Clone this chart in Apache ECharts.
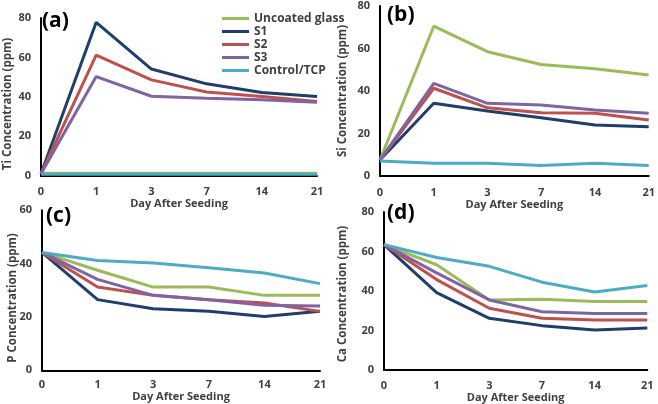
<!DOCTYPE html>
<html><head><meta charset="utf-8">
<script src="https://cdn.jsdelivr.net/npm/echarts@6/dist/echarts.min.js"></script>
<style>html,body{margin:0;padding:0;background:#fff}#c{width:658px;height:404px}</style>
</head><body><div id="c"></div>
<script>
const days = ['0','1','3','7','14','21'];
const seriesNames = ['Uncoated glass','S1','S2','S3','Control/TCP'];
// (a) Ti
const tiUncoated = [1.2,1.2,1.2,1.2,1.2,1.2];
const tiS1 = [1,77.8,54.1,46.6,42.2,40.2];
const tiS2 = [1,61.2,48.6,42.5,40.2,37.6];
const tiS3 = [1,50.3,40.3,39.3,38.5,37.3];
const tiControl = [0.7,0.7,0.7,0.7,0.7,0.7];
// (b) Si
const siUncoated = [7.5,70.5,58.5,52.5,50.5,47.5];
const siS1 = [7.5,34.2,30.6,27.4,24,23.2];
const siS2 = [7.5,41.3,32.1,29.8,29.5,26.4];
const siS3 = [7.5,43.6,34.2,33.4,31.1,29.5];
const siControl = [7.1,6,6,4.9,6,4.9];
// (c) P
const pUncoated = [44.2,37.5,31.2,31.2,28.1,28.1];
const pS1 = [44.2,26.5,23.1,22.1,20.2,22.1];
const pS2 = [44.2,31.2,28.1,26.5,25.2,22.1];
const pS3 = [44.2,34.1,28.1,26.5,24.4,24.1];
const pControl = [44.2,41.2,40.2,38.5,36.5,32.5];
// (d) Ca
const caUncoated = [63.5,53.3,35.5,35.8,34.7,34.7];
const caS1 = [63.5,39.2,26.2,22.5,20.3,21.3];
const caS2 = [63.5,45.8,31.3,26.2,25.3,25.3];
const caS3 = [63.5,49.2,35.5,29.5,28.7,28.7];
const caControl = [63.5,57,52.5,44.5,39.5,42.8];

const yNames = ['Ti Concentration (ppm)','Si Concentration (ppm)','P Concentration (ppm)','Ca Concentration (ppm)'];
const yMax = [80,80,60,80];
const panelLabels = ['(a)','(b)','(c)','(d)'];
const xTitle = 'Day After Seeding';

const colors = ['#9BBB59','#1F3E6D','#C0504D','#8064A2','#4BACC6'];
const panels = [
  [tiUncoated,tiS1,tiS2,tiS3,tiControl],
  [siUncoated,siS1,siS2,siS3,siControl],
  [pUncoated,pS1,pS2,pS3,pControl],
  [caUncoated,caS1,caS2,caS3,caControl]
];
const grids = [
  {left:41,right:341,top:18,bottom:228.3},
  {left:380,right:8.3,top:6,bottom:228},
  {left:42,right:338,top:210.3,bottom:33.7},
  {left:384,right:10.7,top:212,bottom:32}
];
const yNamePos = [[8,104],[343,91],[13,298],[343,294]];
const xLabelMargin = [11,11,9,10];
const xNameGap = [23,23,21,18];
const FONT = 'Open Sans';
const TXT = '#404040';

const chart = echarts.init(document.getElementById('c'),null,{renderer:'canvas'});
const xAxis=[],yAxis=[],series=[];
grids.forEach((g,i)=>{
  xAxis.push({gridIndex:i,type:'category',data:days,boundaryGap:false,
    axisLine:{lineStyle:{color:'#000',width:2}},axisTick:{show:false},
    axisLabel:{color:TXT,fontFamily:FONT,fontWeight:'bold',fontSize:11,margin:xLabelMargin[i]},
    name:xTitle,nameLocation:'middle',nameGap:xNameGap[i],
    nameTextStyle:{color:TXT,fontFamily:FONT,fontWeight:'bold',fontSize:11},
    splitLine:{show:false}});
  yAxis.push({gridIndex:i,type:'value',min:0,max:yMax[i],interval:20,
    axisLine:{show:true,lineStyle:{color:'#000',width:2}},axisTick:{show:false},
    axisLabel:{color:TXT,fontFamily:FONT,fontWeight:'bold',fontSize:11,margin:10},
    splitLine:{show:false}});
  panels[i].forEach((d,k)=>{
    series.push({type:'line',name:seriesNames[k],xAxisIndex:i,yAxisIndex:i,data:d,
      symbol:'none',lineStyle:{width:3,color:colors[k]},itemStyle:{color:colors[k]},
      silent:true,animation:false});
  });
});
const labelPos = [[42,11],[387,5],[46,206],[387,203]];
const graphics = panelLabels.map((t,i)=>({type:'text',left:labelPos[i][0],top:labelPos[i][1],
    style:{text:t,fontFamily:FONT,fontWeight:'bold',fontSize:21,fill:'#000'}}));
yNames.forEach((t,i)=>graphics.push({type:'text',x:yNamePos[i][0],y:yNamePos[i][1],rotation:Math.PI/2,
    style:{text:t,fontFamily:FONT,fontWeight:'bold',fontSize:11.5,fill:TXT,align:'center',verticalAlign:'middle'}}));
chart.setOption({
  animation:false,
  grid:grids,xAxis:xAxis,yAxis:yAxis,series:series,
  legend:{orient:'vertical',left:217,top:7,itemWidth:27,itemHeight:3,itemGap:0,icon:'rect',
    data:seriesNames,selectedMode:false,
    textStyle:{color:TXT,fontFamily:FONT,fontWeight:'bold',fontSize:12,lineHeight:13}},
  graphic:graphics
});
</script></body></html>
